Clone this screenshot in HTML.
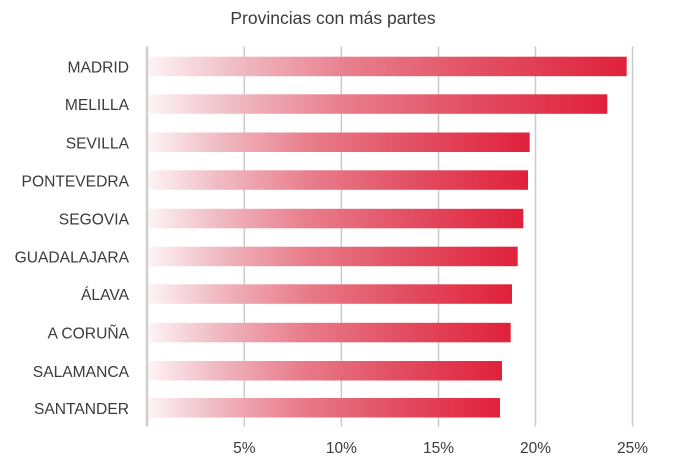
<!DOCTYPE html>
<html><head><meta charset="utf-8"><style>
html,body{margin:0;padding:0;background:#fff;}
svg{display:block;}
text{font-family:"Liberation Sans",sans-serif;fill:#3b3b3b;}
</style></head><body>
<svg width="680" height="468" viewBox="0 0 680 468" xmlns="http://www.w3.org/2000/svg">
<defs>
<linearGradient id="g" x1="0" y1="0" x2="1" y2="0">
<stop offset="0" stop-color="#fdf3f5"/>
<stop offset="0.18" stop-color="#f0bcc4"/>
<stop offset="0.42" stop-color="#e97e8c"/>
<stop offset="0.7" stop-color="#e24e62"/>
<stop offset="1" stop-color="#e0213b"/>
</linearGradient>
</defs>
<rect width="680" height="468" fill="#fff"/>
<text x="333" y="24" font-size="17.5" text-anchor="middle">Provincias con más partes</text>
<g stroke="#cbcbcb" stroke-width="1.5">
<line x1="244.3" y1="46.5" x2="244.3" y2="426.5"/>
<line x1="341.4" y1="46.5" x2="341.4" y2="426.5"/>
<line x1="438.5" y1="46.5" x2="438.5" y2="426.5"/>
<line x1="535.5" y1="46.5" x2="535.5" y2="426.5"/>
<line x1="632.5" y1="46.5" x2="632.5" y2="426.5"/>
</g>
<line x1="147" y1="46.5" x2="147" y2="426.5" stroke="#cfcfcf" stroke-width="2.6"/>
<g fill="url(#g)">
<rect x="149" y="56.7" width="477.7" height="19.5"/>
<rect x="149" y="94.3" width="458.3" height="19.5"/>
<rect x="149" y="132.5" width="380.7" height="19.5"/>
<rect x="149" y="170.3" width="379" height="19.5"/>
<rect x="149" y="208.8" width="374.3" height="19.5"/>
<rect x="149" y="246.7" width="368.7" height="19.5"/>
<rect x="149" y="284.3" width="363" height="19.5"/>
<rect x="149" y="322.8" width="361.7" height="19.5"/>
<rect x="149" y="361" width="353" height="19.5"/>
<rect x="149" y="398" width="351" height="19.5"/>
</g>
<g font-size="15.6" text-anchor="end">
<text x="129" y="72.5">MADRID</text>
<text x="129" y="110.2">MELILLA</text>
<text x="129" y="148.3">SEVILLA</text>
<text x="129" y="186.3">PONTEVEDRA</text>
<text x="129" y="224.6">SEGOVIA</text>
<text x="129" y="262.5">GUADALAJARA</text>
<text x="129" y="300.2">ÁLAVA</text>
<text x="129" y="338.6">A CORUÑA</text>
<text x="129" y="376.8">SALAMANCA</text>
<text x="129" y="413.9">SANTANDER</text>
</g>
<g font-size="15.5" text-anchor="middle">
<text x="244.3" y="453">5%</text>
<text x="341.4" y="453">10%</text>
<text x="438.5" y="453">15%</text>
<text x="535.5" y="453">20%</text>
<text x="632.5" y="453">25%</text>
</g>
</svg>
</body></html>
